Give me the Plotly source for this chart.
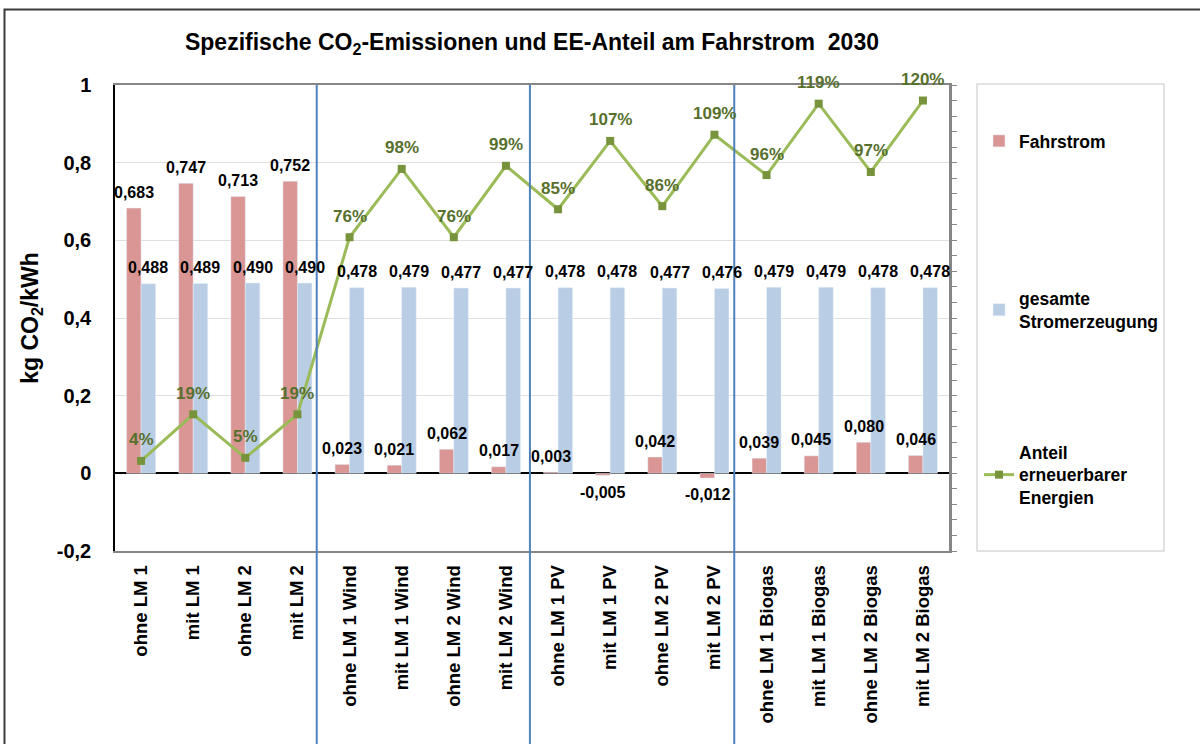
import plotly.graph_objects as go

categories = [
    "ohne LM 1", "mit LM 1", "ohne LM 2", "mit LM 2",
    "ohne LM 1 Wind", "mit LM 1 Wind", "ohne LM 2 Wind", "mit LM 2 Wind",
    "ohne LM 1 PV", "mit LM 1 PV", "ohne LM 2 PV", "mit LM 2 PV",
    "ohne LM 1 Biogas", "mit LM 1 Biogas", "ohne LM 2 Biogas", "mit LM 2 Biogas",
]
fahrstrom = [0.683, 0.747, 0.713, 0.752, 0.023, 0.021, 0.062, 0.017,
             0.003, -0.005, 0.042, -0.012, 0.039, 0.045, 0.080, 0.046]
gesamt = [0.488, 0.489, 0.490, 0.490, 0.478, 0.479, 0.477, 0.477,
          0.478, 0.478, 0.477, 0.476, 0.479, 0.479, 0.478, 0.478]
ee_anteil_pct = [4, 19, 5, 19, 76, 98, 76, 99, 85, 107, 86, 109, 96, 119, 97, 120]

y_tickvals = [-0.2, 0, 0.2, 0.4, 0.6, 0.8, 1]
y_ticktext = ["-0,2", "0", "0,2", "0,4", "0,6", "0,8", "1"]

FONT = "Liberation Sans, Arial, sans-serif"
PINK = "#D99694"
BLUE = "#B9CDE5"
GREEN_LINE = "#9BBB59"
GREEN_MARK = "#77933C"
GREEN_TEXT = "#58702D"

fig = go.Figure()
fig.add_trace(go.Bar(
    x=categories, y=fahrstrom, name="Fahrstrom", marker_color=PINK,
    legend="legend", showlegend=True,
))
fig.add_trace(go.Bar(
    x=categories, y=gesamt, name="gesamte<br>Stromerzeugung", marker_color=BLUE,
    legend="legend2", showlegend=True,
))
fig.add_trace(go.Scatter(
    x=categories, y=[p / 100 for p in ee_anteil_pct], yaxis="y2",
    name="Anteil<br>erneuerbarer<br>Energien", mode="lines+markers",
    line=dict(color=GREEN_LINE, width=3),
    marker=dict(symbol="square", size=8, color=GREEN_MARK),
    legend="legend3", showlegend=True,
))

annotations = []
label_font = dict(family=FONT, size=16, color="black", weight="bold")
for c, v in zip(categories, fahrstrom):
    annotations.append(dict(
        x=c, y=v, xref="x", yref="y", text=f"{v:.3f}".replace(".", ","),
        showarrow=False, xshift=-7.25, yshift=16 if v >= 0 else -17,
        yanchor="middle", font=label_font))
for c, v in zip(categories, gesamt):
    annotations.append(dict(
        x=c, y=v, xref="x", yref="y", text=f"{v:.3f}".replace(".", ","),
        showarrow=False, xshift=7.25, yshift=16,
        yanchor="middle", font=label_font))
for c, p in zip(categories, ee_anteil_pct):
    annotations.append(dict(
        x=c, y=p / 100, xref="x", yref="y2", text=f"{p}%",
        showarrow=False, yshift=21, yanchor="middle",
        font=dict(family=FONT, size=17, color=GREEN_TEXT, weight="bold")))

shapes = []
for xs in [3.37, 7.46, 11.38]:
    shapes.append(dict(type="line", xref="x", yref="paper", x0=xs, x1=xs,
                       y0=-0.43, y1=1, line=dict(color="#4F81BD", width=2),
                       layer="above"))
# legend frame
shapes.append(dict(type="rect", xref="paper", yref="paper",
                   x0=1.0336, x1=1.2578, y0=0, y1=1.002,
                   line=dict(color="#D9D9D9", width=1.5)))
# outer chart frame
shapes.append(dict(type="rect", xref="paper", yref="paper",
                   x0=-0.1325, x1=1.32, y0=-0.5, y1=1.162,
                   line=dict(color="#3A3A3A", width=2)))

legend_common = dict(
    x=1.036, xanchor="left", yanchor="middle", bgcolor="rgba(0,0,0,0)",
    font=dict(family=FONT, size=17.5, color="black", weight="bold"),
    borderwidth=0,
)

fig.update_layout(
    width=1200, height=744,
    margin=dict(l=115, r=251, t=85, b=193, autoexpand=False),
    paper_bgcolor="white", plot_bgcolor="white",
    separators=",.",
    showlegend=True,
    barmode="group", bargap=0.444, bargroupgap=0,
    title=dict(
        text="Spezifische CO<sub>2</sub>-Emissionen und EE-Anteil am Fahrstrom  2030",
        x=0.5, xref="paper", xanchor="center", y=1 - 42 / 744, yanchor="middle",
        font=dict(family=FONT, size=23, color="black", weight="bold"),
    ),
    xaxis=dict(
        type="category", range=[-0.5, len(categories) - 0.5],
        tickangle=-90, showline=True, mirror=True,
        linecolor="#868686", linewidth=1.5, ticks="", showgrid=False,
        tickfont=dict(family=FONT, size=18.5, color="black", weight="bold"),
        ticklabelstandoff=5,
    ),
    yaxis=dict(
        range=[-0.2, 1], tickvals=y_tickvals, ticktext=y_ticktext,
        showgrid=True, gridcolor="#E0E0E0", gridwidth=1,
        zeroline=True, zerolinecolor="black", zerolinewidth=1.5,
        showline=True, linecolor="black", linewidth=1.5, ticks="",
        tickfont=dict(family=FONT, size=20, color="black", weight="bold"),
        ticklabelstandoff=18,
        title=dict(text="kg CO<sub>2</sub>/kWh", standoff=12,
                   font=dict(family=FONT, size=23, color="black", weight="bold")),
    ),
    yaxis2=dict(
        overlaying="y", side="right", range=[-0.25, 1.25],
        showgrid=False, zeroline=False, showticklabels=False,
        showline=True, linecolor="#868686", linewidth=2.5,
        ticks="outside", ticklen=5, tickcolor="#868686", tickwidth=1,
        tick0=0, dtick=0.05,
    ),
    legend=dict(y=(551 - 141) / 466, **legend_common),
    legend2=dict(y=(551 - 310) / 466, **legend_common),
    legend3=dict(y=(551 - 475) / 466, **legend_common),
    annotations=annotations,
    shapes=shapes,
)

fig.write_html(
    "out.html",
    config={"displayModeBar": False},
    post_script="document.body.style.margin='0';document.body.style.overflow='hidden';",
)
